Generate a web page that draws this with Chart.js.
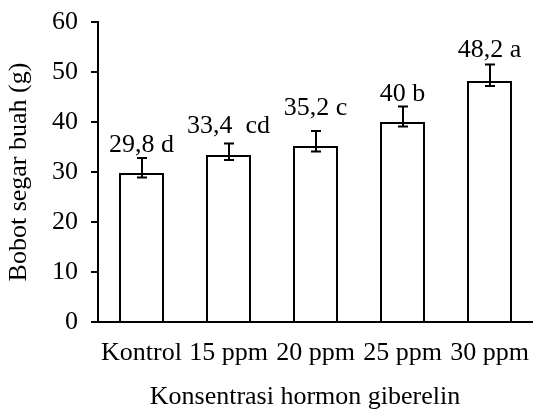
<!DOCTYPE html>
<html>
<head>
<meta charset="utf-8">
<script src="https://cdn.jsdelivr.net/npm/chart.js@4/dist/chart.umd.min.js"></script>
<style>
  html, body { margin: 0; padding: 0; background: #ffffff; }
  #wrap { width: 533px; height: 410px; position: relative; }
</style>
</head>
<body>
<div id="wrap"><canvas id="c" width="533" height="410"></canvas></div>
<script>
// ---- data ----
const categories = ['Kontrol', '15 ppm', '20 ppm', '25 ppm', '30 ppm'];
const values = [29.8, 33.4, 35.2, 40, 48.2];
const errUpper = [32.8, 35.7, 38.2, 43.1, 51.5];
const errLower = [28.9, 32.4, 34.1, 39.1, 47.2];
const labelTexts = ['29,8 d', '33,4  cd', '35,2 c', '40 b', '48,2 a'];
const labelPos = [34.0, 37.8, 41.4, 44.2, 53.0];
const yTicks = [0, 10, 20, 30, 40, 50, 60];
const xTitle = 'Konsentrasi hormon giberelin';
const yTitle = 'Bobot segar buah (g)';

const FONT = "'Liberation Serif', 'Times New Roman', serif";

const errorBarPlugin = {
  id: 'errorBars',
  afterDatasetsDraw(chart) {
    const ctx = chart.ctx;
    const meta = chart.getDatasetMeta(0);
    const y = chart.scales.y;
    ctx.save();
    ctx.strokeStyle = '#000';
    ctx.lineWidth = 2;
    meta.data.forEach((bar, i) => {
      const x = Math.round(bar.x);
      const yt = y.getPixelForValue(errUpper[i]);
      const yb = y.getPixelForValue(errLower[i]);
      ctx.beginPath();
      ctx.moveTo(x, yt); ctx.lineTo(x, yb);
      ctx.moveTo(x - 5, yt); ctx.lineTo(x + 5, yt);
      ctx.moveTo(x - 5, yb); ctx.lineTo(x + 5, yb);
      ctx.stroke();
    });
    ctx.fillStyle = '#000';
    ctx.font = '26px ' + FONT;
    ctx.textAlign = 'center';
    ctx.textBaseline = 'alphabetic';
    meta.data.forEach((bar, i) => {
      ctx.fillText(labelTexts[i], bar.x, y.getPixelForValue(labelPos[i]));
    });
    // x axis title (reference centres it slightly left of the plot centre)
    ctx.fillText(xTitle, 305, 404);
    ctx.restore();
  }
};

new Chart(document.getElementById('c'), {
  type: 'bar',
  data: {
    labels: categories,
    datasets: [{
      data: values,
      backgroundColor: '#ffffff',
      borderColor: '#000000',
      borderWidth: 2,
      borderSkipped: 'bottom',
      categoryPercentage: 1,
      barPercentage: 0.517
    }]
  },
  options: {
    responsive: false,
    animation: false,
    devicePixelRatio: 1,
    layout: { padding: { top: 22, right: 0, left: 0, bottom: 0 } },
    plugins: { legend: { display: false }, tooltip: { enabled: false } },
    scales: {
      x: {
        offset: true,
        grid: { display: false, drawTicks: false },
        border: { display: true, color: '#000', width: 2 },
        ticks: { color: '#000', font: { family: FONT, size: 26 }, padding: 16, maxRotation: 0, autoSkip: false },
        title: { display: false },
        afterFit(s) { s.height = 88; s.paddingLeft = 0; s.paddingRight = 0; }
      },
      y: {
        min: 0, max: 60,
        afterBuildTicks(s) { s.ticks = yTicks.map(v => ({ value: v })); },
        grid: { display: true, drawOnChartArea: false, drawTicks: true, tickLength: 7, color: '#000', lineWidth: 2 },
        border: { display: true, color: '#000', width: 2 },
        ticks: { color: '#000', font: { family: FONT, size: 26 }, padding: 13 },
        title: { display: true, text: yTitle, color: '#000',
                 font: { family: FONT, size: 26 }, padding: { top: 4, bottom: 0 } },
        afterFit(s) { s.width = 98; s.paddingTop = 0; s.paddingBottom = 0; }
      }
    }
  },
  plugins: [errorBarPlugin]
});
</script>
</body>
</html>
